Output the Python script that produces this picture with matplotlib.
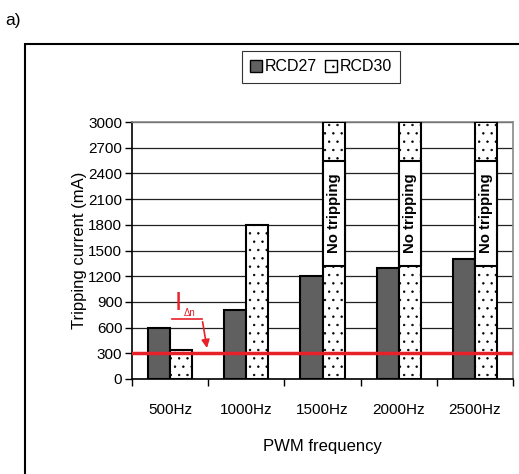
import matplotlib
matplotlib.use("Agg")
import matplotlib.pyplot as plt
import matplotlib.patches as mpatches
import numpy as np

plt.rcParams['font.family'] = ['Liberation Sans', 'DejaVu Sans']
plt.rcParams['hatch.linewidth'] = 0.5

categories = ["500Hz", "1000Hz", "1500Hz", "2000Hz", "2500Hz"]
rcd27 = [590, 800, 1200, 1300, 1400]
rcd30 = [340, 1800, 3000, 3000, 3000]
no_trip = [False, False, True, True, True]
no_trip_lo = 1320
no_trip_hi = 2540
i_dn = 300
yticks = list(range(0, 3001, 300))

fig = plt.figure(figsize=(5.19, 4.74), dpi=100)
ax = fig.add_axes([132/519, 1-379/474, (513-132)/519, (379-122)/474])

x = np.arange(len(categories))
w = 0.29
ax.bar(x - w/2, rcd27, width=w, color='#606060', edgecolor='black', linewidth=1.5, zorder=3, label='RCD27')
ax.bar(x + w/2, rcd30, width=w, color='white', edgecolor='black', linewidth=1.5, hatch='..', zorder=3, label='RCD30')

for i, nt in enumerate(no_trip):
    if nt:
        ax.bar(x[i] + w/2, no_trip_hi - no_trip_lo, bottom=no_trip_lo, width=w,
               color='white', edgecolor='black', linewidth=1.5, zorder=4)
        ax.text(x[i] + w/2, (no_trip_lo + no_trip_hi)/2, "No tripping", rotation=90,
                ha='center', va='center', fontsize=10.8, fontweight='bold', zorder=5)

ax.axhline(i_dn, color='#e8202a', linewidth=2.5, zorder=6)

# I_dn annotation
ax.text(0.11, 890, "I", color='#e8202a', fontsize=19, ha='center', va='center', zorder=6)
ax.text(0.25, 775, "Δn", color='#e8202a', fontsize=7, ha='center', va='center', zorder=6)
ax.plot([0.03, 0.42], [700, 700], color='#e8202a', linewidth=1.2, zorder=6)
ax.annotate("", xy=(0.49, 330), xytext=(0.42, 700),
            arrowprops=dict(arrowstyle='-|>', color='#e8202a', lw=1.2, mutation_scale=12), zorder=6)

ax.set_xlim(-0.5, len(categories) - 0.5)
ax.set_ylim(0, 3000)
ax.set_yticks(yticks)
ax.set_yticklabels([str(v) for v in yticks], fontsize=11)
ax.set_xticks(x)
ax.set_xticklabels(categories, fontsize=11)
ax.tick_params(axis='x', length=0, pad=17)
ax.set_xticks(np.arange(-0.5, len(categories)), minor=True)
ax.tick_params(axis='x', which='minor', length=5, direction='out', width=1)
ax.tick_params(axis='y', length=5, direction='out', width=1, pad=2)
ax.grid(axis='y', color='#222222', linewidth=0.9, zorder=0)
for s in ['top', 'right']:
    ax.spines[s].set_color('#888888')
    ax.spines[s].set_linewidth(1.2)
for s in ['left', 'bottom']:
    ax.spines[s].set_color('black')
    ax.spines[s].set_linewidth(1.2)

ax.set_ylabel("Tripping current (mA)", fontsize=12, labelpad=1)
ax.set_xlabel("PWM frequency", fontsize=12, labelpad=16)

h1 = mpatches.Patch(facecolor='#606060', edgecolor='black', linewidth=1)
h2 = mpatches.Patch(facecolor='white', edgecolor='black', linewidth=1, hatch='..')
leg = fig.legend([h1, h2], ["RCD27", "RCD30"], loc='center', bbox_to_anchor=(321/519, 1-67/474),
                 ncol=2, frameon=True, fancybox=False, fontsize=11.5, handlelength=0.75,
                 handleheight=0.75, handletextpad=0.15, columnspacing=0.5, borderpad=0.55)
leg.get_frame().set_edgecolor('black')
leg.get_frame().set_linewidth(0.8)

frame = mpatches.Rectangle((25/519, -0.05), 1.0, 1-44/474 + 0.05, transform=fig.transFigure,
                           fill=False, edgecolor='black', linewidth=1.5, clip_on=False)
fig.add_artist(frame)

fig.text(5/519, 1-20/474, "a)", fontsize=12.5, va='center', ha='left')

fig.savefig("out.png", dpi=100)
